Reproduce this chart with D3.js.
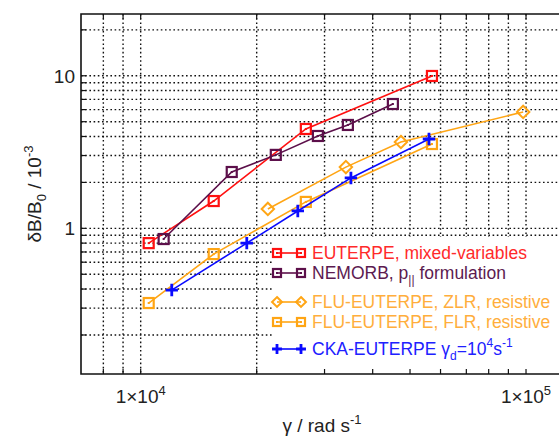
<!DOCTYPE html>
<html>
<head>
<meta charset="utf-8">
<script src="https://cdn.jsdelivr.net/npm/d3@7/dist/d3.min.js"></script>
<style>
  body { margin: 0; background: #fff; }
  svg { display: block; font-family: "Liberation Sans", Arial, sans-serif; }
</style>
</head>
<body>
<svg id="chart"></svg>
<script>
// gamma (rad/s) and dB/B0 (1e-3)
var euterpeX = [10490, 15470, 26830, 57000];
var euterpeY = [0.80, 1.51, 4.48, 9.97];

var nemorbX = [11470, 17230, 22420, 28830, 34490, 45130];
var nemorbY = [0.851, 2.34, 3.03, 4.03, 4.76, 6.53];

var zlrX = [21380, 34080, 47350, 98300];
var zlrY = [1.34, 2.52, 3.68, 5.79];

var flrX = [10490, 15470, 26830, 57000];
var flrY = [0.324, 0.678, 1.49, 3.57];

var ckaX = [12040, 18850, 25570, 35120, 56000];
var ckaY = [0.394, 0.80, 1.30, 2.14, 3.85];

var xGrid = [8000, 9000, 10000, 20000, 30000, 40000, 50000, 60000, 70000, 80000, 90000, 100000];
var yGrid = [0.2, 0.3, 0.4, 0.5, 0.6, 0.7, 0.8, 0.9, 1, 2, 3, 4, 5, 6, 7, 8, 9, 10, 20];

var W = 559, H = 438;
var svg = d3.select("#chart").attr("width", W).attr("height", H);

var x = d3.scaleLog().domain([7000, 134000]).range([81, 575]);
var y = d3.scaleLog().domain([0.111, 25.4]).range([374, 14]);

// dotted grid
svg.append("g").selectAll("line").data(xGrid).enter().append("line")
    .attr("x1", d => x(d)).attr("x2", d => x(d))
    .attr("y1", 14).attr("y2", 374)
    .attr("stroke", "#111").attr("stroke-width", 1.4)
    .attr("stroke-dasharray", "1.6,2.6");
svg.append("g").selectAll("line").data(yGrid).enter().append("line")
    .attr("x1", 81).attr("x2", W)
    .attr("y1", d => y(d)).attr("y2", d => y(d))
    .attr("stroke", "#111").attr("stroke-width", 1.4)
    .attr("stroke-dasharray", "1.6,2.6");

// legend box covers the grid
svg.append("rect").attr("x", 272).attr("y", 237).attr("width", W - 272).attr("height", 136)
    .attr("fill", "#fff");

// small inward ticks
svg.append("g").selectAll("line").data(xGrid).enter().append("line")
    .attr("x1", d => x(d)).attr("x2", d => x(d))
    .attr("y1", 374).attr("y2", 369)
    .attr("stroke", "#111").attr("stroke-width", 1.2);
svg.append("g").selectAll("line").data(xGrid).enter().append("line")
    .attr("x1", d => x(d)).attr("x2", d => x(d))
    .attr("y1", 14).attr("y2", 19)
    .attr("stroke", "#111").attr("stroke-width", 1.2);
svg.append("g").selectAll("line").data(yGrid).enter().append("line")
    .attr("x1", 81).attr("x2", 86)
    .attr("y1", d => y(d)).attr("y2", d => y(d))
    .attr("stroke", "#111").attr("stroke-width", 1.2);

// frame
svg.append("path")
    .attr("d", "M" + W + ",14H81V374H" + W)
    .attr("fill", "none").attr("stroke", "#111").attr("stroke-width", 1.6);

// tick labels
var yLab = [1, 10];
svg.selectAll(".ylab").data(yLab).enter().append("text")
    .attr("class", "ylab")
    .attr("x", 75).attr("y", d => y(d) + 7)
    .attr("text-anchor", "end")
    .attr("font-size", 19).attr("fill", "#222")
    .text(d => d);

var xLab = [1e4, 1e5];
var xl = svg.selectAll(".xlab").data(xLab).enter().append("text")
    .attr("class", "xlab")
    .attr("x", d => x(d)).attr("y", 403)
    .attr("text-anchor", "middle")
    .attr("font-size", 19).attr("fill", "#222");
xl.append("tspan").text("1\u00d710");
xl.append("tspan").attr("dy", -8).attr("font-size", 13).text(d => Math.round(Math.log10(d)));

// axis titles
var xt = svg.append("text")
    .attr("x", 322).attr("y", 432)
    .attr("text-anchor", "middle")
    .attr("font-size", 19).attr("fill", "#222");
xt.append("tspan").text("\u03b3 / rad s");
xt.append("tspan").attr("dy", -8).attr("font-size", 13).text("-1");

var yt = svg.append("text")
    .attr("transform", "translate(41,194) rotate(-90)")
    .attr("text-anchor", "middle")
    .attr("font-size", 19).attr("fill", "#222");
yt.append("tspan").text("\u03b4B/B");
yt.append("tspan").attr("dy", 5).attr("font-size", 13).text("0");
yt.append("tspan").attr("dy", -5).text(" / 10");
yt.append("tspan").attr("dy", -8).attr("font-size", 13).text("-3");

// series
var series = [
    { name: "euterpe", xs: euterpeX, ys: euterpeY, color: "#ff1010", text: "#ff2a2a", mark: "square" },
    { name: "nemorb", xs: nemorbX, ys: nemorbY, color: "#5c0f4a", text: "#5c1a50", mark: "square" },
    { name: "zlr", xs: zlrX, ys: zlrY, color: "#ffa514", text: "#ffae3c", mark: "diamond" },
    { name: "flr", xs: flrX, ys: flrY, color: "#ffa514", text: "#ffae3c", mark: "square" },
    { name: "cka", xs: ckaX, ys: ckaY, color: "#0a0aff", text: "#2020ff", mark: "plus" }
];

var line = d3.line().x(d => x(d[0])).y(d => y(d[1]));

function drawMark(g, mark, color, s) {
    if (mark === "square") {
        g.append("rect").attr("x", -s / 2).attr("y", -s / 2).attr("width", s).attr("height", s)
            .attr("fill", "none").attr("stroke", color).attr("stroke-width", 2.2);
        g.append("rect").attr("x", -1).attr("y", -1).attr("width", 2).attr("height", 2)
            .attr("fill", color);
    } else if (mark === "diamond") {
        var r = s * 0.62;
        g.append("path").attr("d", "M0," + (-r) + "L" + r + ",0L0," + r + "L" + (-r) + ",0Z")
            .attr("fill", "none").attr("stroke", color).attr("stroke-width", 2);
    } else {
        var p = s * 0.62;
        g.append("path").attr("d", "M" + (-p) + ",0H" + p + "M0," + (-p) + "V" + p)
            .attr("fill", "none").attr("stroke", color).attr("stroke-width", 2.8);
    }
}

series.forEach(function (s) {
    var pts = s.xs.map((v, i) => [v, s.ys[i]]);
    svg.append("path").datum(pts)
        .attr("d", line)
        .attr("fill", "none").attr("stroke", s.color).attr("stroke-width", 1.6);
    svg.selectAll(".m-" + s.name).data(pts).enter().append("g")
        .attr("class", "m-" + s.name)
        .attr("transform", d => "translate(" + x(d[0]) + "," + y(d[1]) + ")")
        .each(function () { drawMark(d3.select(this), s.mark, s.color, 10); });
});

// legend
var legRows = [253, 273, 302, 322, 349];
var leg = svg.append("g");
series.forEach(function (s, i) {
    var ly = legRows[i];
    leg.append("line").attr("x1", 277).attr("x2", 301).attr("y1", ly).attr("y2", ly)
        .attr("stroke", s.color).attr("stroke-width", 1.6);
    [277, 301].forEach(function (lx) {
        var g = leg.append("g").attr("transform", "translate(" + lx + "," + ly + ")");
        drawMark(g, s.mark, s.color, 8);
    });
    var t = leg.append("text").attr("x", 312).attr("y", ly + 6)
        .attr("font-size", 17.5).attr("fill", s.text);
    if (s.name === "euterpe") t.text("EUTERPE, mixed-variables");
    if (s.name === "nemorb") {
        t.append("tspan").text("NEMORB, p");
        t.append("tspan").attr("dy", 5).attr("font-size", 12).text("||");
        t.append("tspan").attr("dy", -5).text(" formulation");
    }
    if (s.name === "zlr") t.text("FLU-EUTERPE, ZLR, resistive");
    if (s.name === "flr") t.text("FLU-EUTERPE, FLR, resistive");
    if (s.name === "cka") {
        t.append("tspan").text("CKA-EUTERPE \u03b3");
        t.append("tspan").attr("dy", 5).attr("font-size", 12).text("d");
        t.append("tspan").attr("dy", -5).text("=10");
        t.append("tspan").attr("dy", -8).attr("font-size", 12).text("4");
        t.append("tspan").attr("dy", 8).text("s");
        t.append("tspan").attr("dy", -8).attr("font-size", 12).text("-1");
    }
});
</script>
</body>
</html>
